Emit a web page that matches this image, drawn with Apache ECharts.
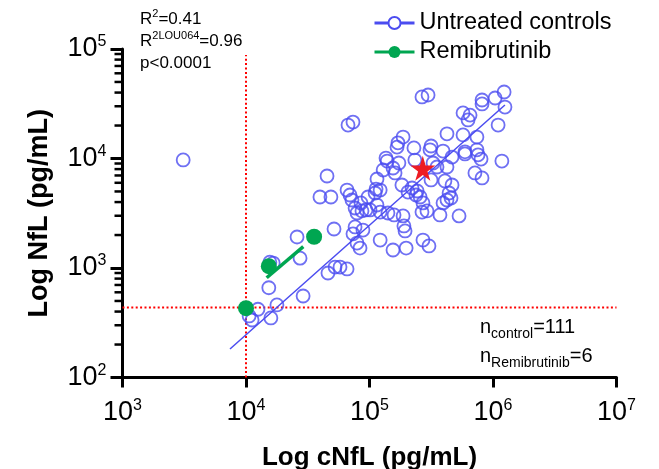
<!DOCTYPE html>
<html>
<head>
<meta charset="utf-8">
<script src="https://cdn.jsdelivr.net/npm/echarts@6/dist/echarts.min.js"></script>
<style>
  html, body { margin: 0; padding: 0; background: #fff; }
  #chart { width: 659px; height: 469px; }
</style>
</head>
<body>
<div id="chart"></div>
<script>
// untreated controls, cNfL (x) and NfL (y), pg/mL
const ctrlX = [3100, 10600, 11200, 12500, 15900, 17800, 15300, 15600, 16600, 25900,
  27400, 29000, 46100, 52600, 57700, 65800, 73500, 79200, 83800, 51600,
  76400, 88500, 122000, 155000, 198000, 187000, 190000, 194000, 271000, 303000,
  45300, 39700, 48700, 65800, 69500, 72100, 76400, 79200, 85300, 86900,
  97300, 101000, 111000, 115000, 113000, 122000, 115000, 122000, 141000, 158000,
  139000, 155000, 173000, 161000, 129000, 183000, 205000, 221000, 243000, 257000,
  271000, 292000, 266000, 372000, 394000, 424000, 441000, 457000, 531000, 408000,
  466000, 315000, 714000, 815000, 352000, 424000, 466000, 593000, 757000, 800000,
  1180000, 233000, 136000, 170000, 167000, 187000, 229000, 315000, 309000, 394000,
  593000, 741000, 424000, 572000, 741000, 1100000, 1250000, 1230000, 1040000, 815000,
  815000, 572000, 652000, 628000, 266000, 298000, 67000, 73500, 327000, 238000,
  93700]
const ctrlY = [9700, 365, 335, 420, 350, 460, 660, 1130, 1110, 1920,
  1230, 555, 900, 1020, 1020, 980, 2050, 1690, 1520, 2270,
  2370, 2220, 1800, 1460, 1520, 2990, 2420, 2180, 1800, 1590,
  6920, 4450, 4450, 5150, 4640, 4180, 3530, 3180, 3930, 3320,
  4450, 3390, 4840, 3760, 5260, 5150, 6500, 3240, 3180, 3050,
  9480, 8190, 9100, 7380, 7850, 5730, 4940, 5380, 5050, 4450,
  3930, 3320, 3240, 3050, 3930, 4180, 4840, 4360, 2990, 6240,
  5730, 6370, 7380, 6640, 8360, 8360, 10300, 11000, 10800, 9890,
  9480, 9680, 10100, 13900, 12700, 15700, 12500, 13000, 12000, 11700,
  11500, 12000, 16800, 16400, 15700, 20200, 29500, 40500, 35700, 34200,
  31500, 26100, 24900, 22500, 36500, 38000, 20200, 21500, 9100, 4640,
  3390]

// remibrutinib
const remiX = [10000, 15300, 35600]
const remiY = [430, 1040, 1930]

// fitted lines
const fitCtrlX = [7420, 1250000]
const fitCtrlY = [182, 30800]
const fitRemiX = [14700, 29100]
const fitRemiY = [815, 1570]

// red star
const starX = [270000]
const starY = [8130]

// dotted reference lines
const refCnfl = 10000
const refNfl = 435

const xTickVals = [1000, 10000, 100000, 1000000, 10000000]
const xTickExps = ['3', '4', '5', '6', '7']
const yTickVals = [100, 1000, 10000, 100000]
const yTickExps = ['2', '3', '4', '5']
const yMinorTicks = [200, 300, 400, 500, 600, 700, 800, 900,
  2000, 3000, 4000, 5000, 6000, 7000, 8000, 9000,
  20000, 30000, 40000, 50000, 60000, 70000, 80000, 90000]

const BLUE = '#4b4cf0'
const GREEN = '#00a651'
const RED = '#ed1c24'
const FONT = '"Liberation Sans", Arial, sans-serif'

const pairs = (xs, ys) => xs.map((x, i) => [x, ys[i]])

// pick the exponent label of the nearest tick value
const expLabel = (vals, exps) => v => {
  let best = 0
  vals.forEach((t, i) => { if (Math.abs(t - v) < Math.abs(vals[best] - v)) best = i })
  return '{b|10}{s|' + exps[best] + '}'
}

const supRich = {
  b: { fontSize: 27, fontFamily: FONT, color: '#000', lineHeight: 30 },
  s: { fontSize: 16, fontFamily: FONT, color: '#000', verticalAlign: 'top', lineHeight: 30, padding: [0, 0, 10, 0] }
}

const chart = echarts.init(document.getElementById('chart'))

chart.setOption({
  animation: false,
  textStyle: { fontFamily: FONT },
  grid: { left: 122.5, right: 42.5, top: 49, bottom: 91.5, containLabel: false, outerBoundsMode: 'none' },
  legend: {
    orient: 'vertical',
    left: 368,
    top: 6,
    itemWidth: 40,
    itemHeight: 15,
    itemGap: 5,
    data: ['Untreated controls', 'Remibrutinib'],
    textStyle: { fontSize: 23.5, color: '#000', fontFamily: FONT },
    lineStyle: { width: 3 }
  },
  xAxis: {
    type: 'log',
    logBase: 10,
    min: 1000,
    max: 10000000,
    name: 'Log cNfL (pg/mL)',
    nameLocation: 'middle',
    nameGap: 67,
    nameTextStyle: { fontSize: 26, fontWeight: 'bold', color: '#000', fontFamily: FONT },
    splitLine: { show: false },
    axisLine: { lineStyle: { color: '#000', width: 3 } },
    axisTick: { length: 10, lineStyle: { color: '#000', width: 3 } },
    axisLabel: {
      margin: 20,
      formatter: expLabel(xTickVals, xTickExps),
      rich: supRich
    }
  },
  yAxis: {
    type: 'log',
    logBase: 10,
    min: 100,
    max: 100000,
    name: 'Log NfL (pg/mL)',
    nameLocation: 'middle',
    nameGap: 69,
    nameTextStyle: { fontSize: 27, fontWeight: 'bold', color: '#000', fontFamily: FONT },
    splitLine: { show: false },
    axisLine: { lineStyle: { color: '#000', width: 3 } },
    axisTick: { length: 12, lineStyle: { color: '#000', width: 3 } },
    axisLabel: {
      margin: 16,
      formatter: expLabel(yTickVals, yTickExps),
      rich: supRich
    }
  },
  graphic: [
    {
      type: 'text', left: 140, top: 8,
      style: {
        text: '{a|R}{s|2}{a|=0.41}\n{a|R}{s|2LOU064}{a|=0.96}\n{a|p<0.0001}',
        rich: {
          a: { fontSize: 17, fontFamily: FONT, color: '#000', lineHeight: 22 },
          s: { fontSize: 11, fontFamily: FONT, color: '#000', lineHeight: 22, verticalAlign: 'top', padding: [0, 0, 6, 0] }
        }
      }
    },
    {
      type: 'text', left: 480, top: 317,
      style: {
        text: '{a|n}{s|control}{a|=111}\n{a|n}{s|Remibrutinib}{a|=6}',
        rich: {
          a: { fontSize: 20, fontFamily: FONT, color: '#000', lineHeight: 29 },
          s: { fontSize: 14, fontFamily: FONT, color: '#000', lineHeight: 29, verticalAlign: 'bottom', padding: [8, 0, 0, 0] }
        }
      }
    }
  ],
  series: [
    {
      name: 'Untreated controls',
      type: 'line',
      symbol: 'emptyCircle',
      showSymbol: false,
      data: pairs(fitCtrlX, fitCtrlY),
      itemStyle: { color: BLUE },
      lineStyle: { color: BLUE, width: 1.5 },
      z: 4,
      silent: true
    },
    {
      name: 'Remibrutinib',
      type: 'line',
      symbol: 'circle',
      showSymbol: false,
      data: pairs(fitRemiX, fitRemiY),
      itemStyle: { color: GREEN },
      lineStyle: { color: GREEN, width: 3.5 },
      z: 4,
      silent: true
    },
    {
      name: 'Untreated controls',
      type: 'scatter',
      symbol: 'circle',
      symbolSize: 13,
      data: pairs(ctrlX, ctrlY),
      itemStyle: { color: 'rgba(0,0,0,0)', borderColor: BLUE, borderWidth: 1.8 },
      z: 3
    },
    {
      name: 'Remibrutinib',
      type: 'scatter',
      symbol: 'circle',
      symbolSize: 16,
      data: pairs(remiX, remiY),
      itemStyle: { color: GREEN, opacity: 1 },
      z: 5
    },
    {
      name: 'star',
      type: 'scatter',
      symbol: 'path://M50,0 L61,35 L98,35 L68,57 L79,91 L50,70 L21,91 L32,57 L2,35 L39,35 Z',
      symbolSize: 25,
      data: pairs(starX, starY),
      itemStyle: { color: RED, opacity: 1 },
      z: 6
    },
    {
      name: 'refV',
      type: 'line',
      symbol: 'none',
      data: [[refCnfl, 100], [refCnfl, 88000]],
      lineStyle: { color: 'red', width: 2, type: [2, 2.4] },
      z: 1,
      silent: true
    },
    {
      name: 'refH',
      type: 'line',
      symbol: 'none',
      data: [[1000, refNfl], [10000000, refNfl]],
      lineStyle: { color: 'red', width: 2, type: [2, 2.4] },
      z: 1,
      silent: true
    },
    {
      name: 'minor',
      type: 'custom',
      silent: true,
      clip: false,
      data: yMinorTicks.map(v => [1000, v]),
      renderItem: (params, api) => {
        const p = api.coord([api.value(0), api.value(1)])
        return {
          type: 'line',
          shape: { x1: p[0] - 8, y1: p[1], x2: p[0], y2: p[1] },
          style: { stroke: '#000', lineWidth: 2.5 }
        }
      },
      z: 10
    }
  ]
})
</script>
</body>
</html>
